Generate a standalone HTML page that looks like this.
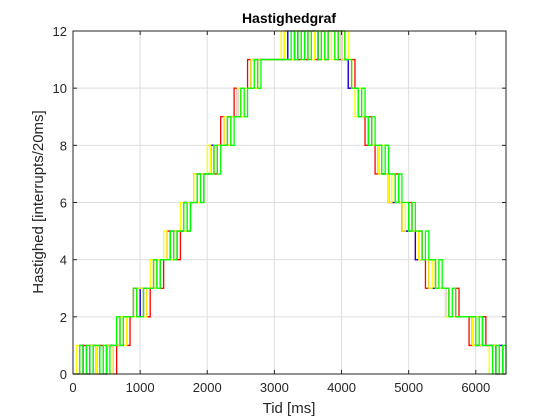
<!DOCTYPE html>
<html><head><meta charset="utf-8"><style>
body{margin:0;background:#fff;}
svg{display:block;font-family:"Liberation Sans",sans-serif;}
</style></head><body>
<svg id="chart" width="560" height="420" viewBox="0 0 560 420">
<rect x="0" y="0" width="560" height="420" fill="#fff"/>
<g id="grid"></g>
<g id="series"></g>
<g id="axes"></g>
<text x="289" y="23" text-anchor="middle" font-size="14" font-weight="bold" fill="#000">Hastighedgraf</text>
<text x="289" y="413" text-anchor="middle" font-size="15" fill="#262626">Tid [ms]</text>
<text transform="translate(43,202) rotate(-90)" text-anchor="middle" font-size="15" fill="#262626">Hastighed [interrupts/20ms]</text>
</svg>
<script>
const xTicks=[0,1000,2000,3000,4000,5000,6000];
const yTicks=[0,2,4,6,8,10,12];
const sampleStep=50;
const redValues=[0,0,0,1,0,1,1,0,1,0, 1,1,0,1,2,2,1,2,3,2, 3,3,2,3,4,4,3,4,5,4, 5,4,5,6,5,6,7,6,6,7, 7,8,7,8,9,8,8,9,10,9, 10,10,11,10,10,11,11,11,11,11, 11,11,11,12,11,11,12,11,12,11, 12,12,11,12,12,11,12,12,12,11, 12,11,10,11,10,9,9,8,9,8, 7,8,7,7,6,6,7,6,5,5, 6,5,4,5,4,3,4,4,3,3, 3,3,2,2,3,2,2,2,1,2, 1,1,2,1,1,1,0,1,0,0];
const blueValues=[0,0,1,0,0,1,0,1,0,0, 1,1,1,1,1,2,2,2,2,3, 2,3,3,3,3,4,4,4,4,5, 5,5,5,6,6,6,6,7,7,7, 7,8,8,8,8,8,9,9,9,10, 10,10,10,11,11,11,11,11,11,11, 11,11,11,11,12,12,11,12,12,12, 12,12,12,11,12,12,12,12,12,12, 11,11,10,10,10,9,9,9,8,8, 8,7,7,7,6,6,6,6,5,5, 5,5,4,4,4,4,3,3,3,3, 3,2,2,2,2,2,2,2,2,1, 1,1,1,1,1,1,0,1,0,0];
const yellowValues=[0,1,0,0,1,1,0,1,0,1, 1,0,1,1,2,1,2,2,2,3, 3,2,3,4,3,4,4,5,4,4, 5,5,6,5,6,6,7,6,7,7, 8,7,8,8,8,9,8,9,9,10, 9,10,10,11,10,11,11,11,11,11, 11,11,12,11,11,11,12,12,11,12, 12,11,12,12,11,12,12,11,12,12, 11,12,11,10,9,10,9,9,8,8, 8,7,8,7,6,7,6,6,5,6, 5,5,5,4,4,4,3,4,3,3, 3,2,2,2,2,2,2,2,2,1, 2,1,1,1,0,1,1,0,0,0];
const greenValues=[0,0,1,0,1,0,1,1,0,1, 0,1,1,2,1,2,2,2,3,2, 2,3,3,3,4,3,4,4,4,5, 4,5,5,6,5,6,6,7,6,7, 7,7,8,7,8,8,9,8,9,9, 10,9,10,10,11,10,11,11,11,11, 11,11,11,11,11,12,11,12,11,12, 11,12,12,11,12,11,12,12,11,12, 12,11,11,10,10,9,10,9,8,9, 8,8,7,8,7,7,6,7,6,6, 5,6,5,5,4,5,4,4,3,4, 3,3,2,3,2,2,2,2,2,2, 1,2,1,1,1,0,1,0,1,0];
const seriesColors=["#ff0000","#0000ff","#ffff00","#00ff00"];
const allSeries=[redValues,blueValues,yellowValues,greenValues];
const L=73,R=506,T=31,B=374,XMAX=6450,YMAX=12;
const xs=v=>L+(v/XMAX)*(R-L);
const ys=v=>B-(v/YMAX)*(B-T);
const NS="http://www.w3.org/2000/svg";
const grid=document.getElementById('grid'),axes=document.getElementById('axes'),sg=document.getElementById('series');
function mk(tag,attrs,parent){const e=document.createElementNS(NS,tag);for(const k in attrs)e.setAttribute(k,attrs[k]);parent.appendChild(e);return e;}
xTicks.forEach(t=>{
  const g=mk('line',{x1:xs(t),x2:xs(t),y1:T,y2:B,stroke:'#dedede','stroke-width':1},grid);
  
  
  const a=mk('line',{x1:xs(t),x2:xs(t),y1:B,y2:B-4,stroke:'#262626'},axes);
  
  
  const a2=mk('line',{x1:xs(t),x2:xs(t),y1:T,y2:T+4,stroke:'#262626'},axes);
  
  
  const lb=mk('text',{x:xs(t),y:B+18,'text-anchor':'middle','font-size':13,fill:'#262626'},axes);
  lb.textContent=t;
  
  
});
yTicks.forEach(t=>{
  const g=mk('line',{x1:L,x2:R,y1:ys(t),y2:ys(t),stroke:'#dedede','stroke-width':1},grid);
  
  
  const a=mk('line',{x1:L,x2:L+4,y1:ys(t),y2:ys(t),stroke:'#262626'},axes);
  
  
  const a2=mk('line',{x1:R,x2:R-4,y1:ys(t),y2:ys(t),stroke:'#262626'},axes);
  
  
  const lb=mk('text',{x:L-6,y:ys(t)+5,'text-anchor':'end','font-size':13,fill:'#262626'},axes);
  lb.textContent=t;
  
  
});
allSeries.forEach((vals,si)=>{
  let d='M'+xs(0)+','+ys(vals[0]);
  vals.forEach((v,i)=>{d+=' H'+xs(i*sampleStep)+' V'+ys(v);});
  d+=' H'+xs(XMAX);
  const p=mk('path',{d:d,fill:'none',stroke:seriesColors[si],'stroke-width':1.3},sg);
  
  
});
const box=mk('rect',{x:L,y:T,width:R-L,height:B-T,fill:'none',stroke:'#262626','stroke-width':1},axes);


</script>
</body></html>
